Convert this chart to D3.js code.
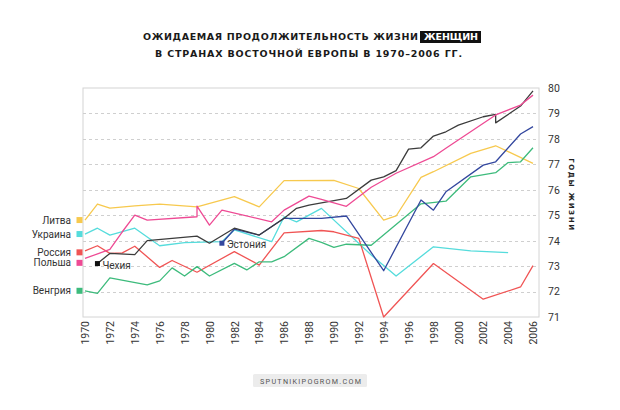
<!DOCTYPE html>
<html><head><meta charset="utf-8">
<script src="https://cdn.jsdelivr.net/npm/d3@7"></script>
<style>
html,body{margin:0;padding:0;background:#fff;}
svg{display:block;}
</style></head>
<body>
<svg id="chart" width="620" height="410"></svg>
<script>
// ---- data ----
const yearTicks = d3.range(1970, 2007, 2);
const valueTicks = d3.range(71, 81);

const lithuaniaYears  = [1970,1971,1972,1974,1976,1979,1982,1984,1986,1990,1992,1994,1995,1997,1998,2001,2003,2006];
const lithuaniaValues = [74.81,75.44,75.28,75.37,75.44,75.33,75.73,75.33,76.36,76.37,76.05,74.81,74.97,76.49,76.71,77.43,77.73,77.04];

const ukraineYears  = [1970,1971,1972,1974,1976,1978,1981,1982,1985,1986,1987,1989,1993,1995,1998,2001,2004];
const ukraineValues = [74.26,74.49,74.22,74.49,73.80,73.92,73.96,74.42,73.96,74.94,74.74,75.27,73.44,72.61,73.76,73.60,73.53];

const russiaYears  = [1970,1971,1972,1973,1974,1976,1977,1979,1982,1984,1986,1989,1990,1992,1994,1998,2002,2005,2006];
const russiaValues = [73.60,73.80,73.50,73.52,73.78,72.95,73.22,72.76,73.57,73.04,74.31,74.40,74.35,74.09,71.00,73.10,71.70,72.18,73.02];

const polandYears  = [1970,1972,1973,1974,1975,1979,1979,1980,1981,1985,1986,1988,1989,1991,1993,1995,1998,1999,2003,2005,2006];
const polandValues = [73.30,73.66,74.35,75.00,74.81,74.94,75.36,74.61,75.20,74.74,75.20,75.75,75.62,75.35,76.10,76.65,77.30,77.63,78.94,79.33,79.72];

const hungaryYears  = [1970,1971,1972,1975,1976,1977,1978,1979,1980,1982,1983,1984,1985,1986,1988,1989,1990,1991,1993,1997,1999,2001,2003,2004,2005,2006];
const hungaryValues = [72.03,71.93,72.54,72.26,72.42,72.93,72.61,72.98,72.61,73.11,72.85,73.17,73.17,73.37,74.09,73.93,73.74,73.86,73.82,75.45,75.55,76.51,76.67,77.07,77.10,77.65];

const czechYears  = [1971,1972,1974,1975,1979,1980,1982,1984,1986,1987,1988,1991,1993,1994,1995,1996,1997,1998,1999,2000,2002,2003,2003,2005,2006];
const czechValues = [73.10,73.50,73.45,74.00,74.18,73.90,74.49,74.22,74.88,75.27,75.40,75.66,76.38,76.51,76.75,77.60,77.65,78.11,78.28,78.54,78.87,78.96,78.63,79.29,79.89];

const estoniaYears  = [1981,1982,1984,1986,1989,1991,1994,1997,1998,1999,2002,2003,2005,2006];
const estoniaValues = [73.90,74.45,74.22,74.88,74.88,74.97,72.82,75.60,75.20,75.92,76.97,77.10,78.19,78.48];

const seriesNames  = ["Литва","Украина","Россия","Польша","Венгрия","Чехия","Эстония"];
const seriesColors = ["#f7c94e","#55dcdc","#f05454","#ee4a94","#3dbb7c","#3c3c3c","#33479e"];
const seriesYears  = [lithuaniaYears, ukraineYears, russiaYears, polandYears, hungaryYears, czechYears, estoniaYears];
const seriesValues = [lithuaniaValues, ukraineValues, russiaValues, polandValues, hungaryValues, czechValues, estoniaValues];

const titleLine1a = "ОЖИДАЕМАЯ ПРОДОЛЖИТЕЛЬНОСТЬ ЖИЗНИ";
const titleLine1b = "ЖЕНЩИН";
const titleLine2  = "В СТРАНАХ ВОСТОЧНОЙ ЕВРОПЫ В 1970–2006 ГГ.";
const axisTitle   = "ГОДЫ ЖИЗНИ";
const footerText  = "SPUTNIKIPOGROM.COM";

// ---- layout ----
const svg = d3.select("#chart");
const plot = {left: 83, right: 539, top: 88, bottom: 317};
const x = d3.scaleLinear().domain([1970, 2006]).range([85, 533]);
const y = d3.scaleLinear().domain([71, 80]).range([plot.bottom, plot.top]);
const labelFont = "Roboto, 'Liberation Sans', sans-serif";

// title
const tFont = "'DejaVu Sans', sans-serif";
svg.append("text").attr("x", 143).attr("y", 40)
  .attr("font-family", tFont).attr("font-weight", "bold").attr("font-size", 9.5)
  .attr("fill", "#1a1a1a").attr("textLength", 275).attr("lengthAdjust", "spacing")
  .text(titleLine1a);
svg.append("rect").attr("x", 420).attr("y", 31).attr("width", 61).attr("height", 12).attr("fill", "#111");
svg.append("text").attr("x", 424).attr("y", 40)
  .attr("font-family", tFont).attr("font-weight", "bold").attr("font-size", 9.5)
  .attr("fill", "#fff").attr("textLength", 54).attr("lengthAdjust", "spacing")
  .text(titleLine1b);
svg.append("text").attr("x", 155).attr("y", 57)
  .attr("font-family", tFont).attr("font-weight", "bold").attr("font-size", 9.5)
  .attr("fill", "#1a1a1a").attr("textLength", 307).attr("lengthAdjust", "spacing")
  .text(titleLine2);

// frame
svg.append("rect").attr("x", plot.left).attr("y", plot.top)
  .attr("width", plot.right - plot.left).attr("height", plot.bottom - plot.top)
  .attr("fill", "none").attr("stroke", "#d4d4d4").attr("stroke-width", 1);

// grid
svg.append("g").selectAll("line").data(valueTicks.filter(v => v > 71 && v < 80)).join("line")
  .attr("x1", plot.left).attr("x2", plot.right)
  .attr("y1", d => Math.round(y(d)) + 0.5).attr("y2", d => Math.round(y(d)) + 0.5)
  .attr("stroke", "#cfcfcf").attr("stroke-dasharray", "3,3").attr("stroke-width", 1);

// right axis
const ya = svg.append("g").attr("transform", `translate(${plot.right},0)`)
  .call(d3.axisRight(y).tickValues(valueTicks).tickSize(0).tickPadding(9).tickFormat(d3.format("d")));
ya.select(".domain").remove();
ya.selectAll("text").attr("font-family", labelFont).attr("font-size", 10.5).attr("fill", "#333");

svg.append("text")
  .attr("transform", `translate(569,${(y(75.8))}) rotate(90)`)
  .attr("text-anchor", "middle").attr("font-family", tFont).attr("font-weight", "bold")
  .attr("font-size", 7).attr("letter-spacing", 1.6).attr("fill", "#222")
  .text(axisTitle);

// bottom axis
const xa = svg.append("g").attr("transform", `translate(0,${plot.bottom})`)
  .call(d3.axisBottom(x).tickValues(yearTicks).tickSize(0).tickPadding(4).tickFormat(d3.format("d")));
xa.select(".domain").remove();
xa.selectAll("text")
  .attr("font-family", labelFont).attr("font-size", 10.5).attr("fill", "#333")
  .attr("text-anchor", "end").attr("transform", "rotate(-90)")
  .attr("x", -4).attr("y", 0).attr("dy", "0.35em");

// lines
const line = d3.line().x(d => x(d[0])).y(d => y(d[1]));
const order = [0,1,2,4,6,5,3];
order.forEach(i => {
  const pts = seriesYears[i].map((yr, k) => [yr, seriesValues[i][k]]);
  svg.append("path").datum(pts).attr("d", line)
    .attr("fill", "none").attr("stroke", seriesColors[i]).attr("stroke-width", 1.3)
    .attr("stroke-linejoin", "round");
});

// left legend (first five series), placed at their starting values, pushed down to avoid overlap
const legendIdx = [0,1,2,3,4];
const legendY = legendIdx.map(i => y(seriesValues[i][0]));
const sortedK = legendIdx.map((_, k) => k).sort((a, b) => legendY[a] - legendY[b]);
for (let s = 1; s < sortedK.length; s++) {
  const prev = legendY[sortedK[s - 1]];
  if (legendY[sortedK[s]] - prev < 10.5) {
    legendY[sortedK[s - 1]] += 1.5;
    legendY[sortedK[s]] = legendY[sortedK[s - 1]] + 10.5;
  }
}
legendIdx.forEach((i, k) => {
  const cy = legendY[k];
  svg.append("rect").attr("x", 76.5).attr("y", cy - 3).attr("width", 6).attr("height", 6).attr("fill", seriesColors[i]);
  svg.append("text").attr("x", 71).attr("y", cy).attr("dy", "0.35em").attr("text-anchor", "end")
    .attr("font-family", labelFont).attr("font-size", 10).attr("fill", "#333").text(seriesNames[i]);
});

// inline labels for Czech and Estonia at their first points
[5, 6].forEach(i => {
  const px = x(seriesYears[i][0]), py = y(seriesValues[i][0]);
  svg.append("rect").attr("x", px - 2.5).attr("y", py - 2.5).attr("width", 5).attr("height", 5).attr("fill", i === 5 ? "#111" : seriesColors[i]);
  svg.append("text").attr("x", px + 5).attr("y", py + 1.5).attr("dy", "0.35em")
    .attr("font-family", labelFont).attr("font-size", 10).attr("fill", "#333").text(seriesNames[i]);
});

// footer
svg.append("rect").attr("x", 253).attr("y", 374).attr("width", 114).attr("height", 13).attr("rx", 1.5).attr("fill", "#ececec");
svg.append("text").attr("x", 260).attr("y", 383.5)
  .attr("font-family", labelFont).attr("font-size", 7.2).attr("fill", "#555")
  .attr("textLength", 101).attr("lengthAdjust", "spacing").text(footerText);
</script>
</body></html>
